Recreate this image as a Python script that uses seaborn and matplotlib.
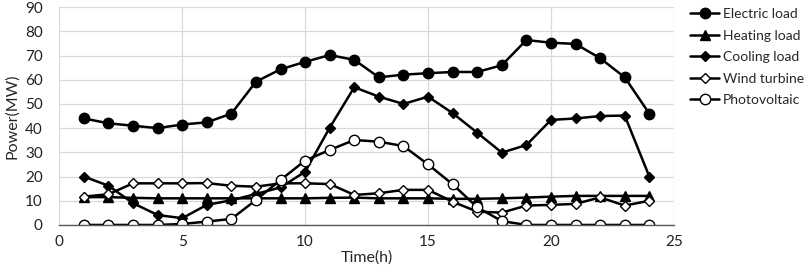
import matplotlib
matplotlib.use("Agg")
import matplotlib.pyplot as plt
import seaborn as sns
import pandas as pd

hours = list(range(1, 25))
electric = [44, 42, 41, 40, 41.5, 42.4, 46, 59.2, 64.3, 67.4, 70.2, 68.2, 61, 62.1, 62.7, 63.2,
            63.2, 66, 76.4, 75.3, 74.8, 68.9, 61, 46]
heating = [11.5, 11.5, 11.2, 11, 11, 11, 11, 11, 11, 11, 11.2, 11.3, 11, 11, 11, 10.8,
           10.8, 11, 11.3, 11.7, 12, 12, 12, 12]
cooling = [20, 16.2, 9, 4.1, 2.8, 8.3, 10.2, 12.8, 15.5, 22, 40.2, 56.9, 53, 50, 53, 46.2,
           38.1, 29.9, 33, 43.4, 44, 45, 45.2, 20]
wind = [11.7, 12.7, 17.2, 17.2, 17.2, 17.3, 16.2, 15.8, 17.2, 17.2, 16.9, 12.4, 13.1, 14.5,
        14.5, 9.6, 5.5, 5.1, 8, 8.3, 8.7, 11.4, 8, 10]
pv = [0, 0, 0, 0, 0.4, 1.4, 2.5, 10.3, 18.6, 26.6, 31, 35.1, 34.4, 32.6, 25, 16.8,
      7.3, 1.6, 0, 0, 0, 0, 0, 0]

names = ["Electric load", "Heating load", "Cooling load", "Wind turbine", "Photovoltaic"]
series = [electric, heating, cooling, wind, pv]
markers = ["o", "^", "D", "D", "o"]
msizes = [7.5, 7, 5, 5.5, 7.5]
faces = ["black", "black", "black", "white", "white"]

x_ticks = [0, 5, 10, 15, 20, 25]
y_ticks = list(range(0, 91, 10))

sns.set_style("white")
plt.rcParams['font.family'] = ['Lato', 'DejaVu Sans']

fig = plt.figure(figsize=(8.09, 2.74), dpi=100)
ax = fig.add_axes([0.0733, 0.179, 0.7597, 0.795])

for name, vals, m, ms, fc in zip(names, series, markers, msizes, faces):
    df = pd.DataFrame({"Time": hours, "Power": vals})
    sns.lineplot(data=df, x="Time", y="Power", ax=ax, color="black", linewidth=1.8,
                 marker=m, markersize=ms, markerfacecolor=fc, markeredgecolor="black",
                 markeredgewidth=1.0, label=name)

ax.set_xlim(0, 25)
ax.set_ylim(0, 90)
ax.set_xticks(x_ticks)
ax.set_yticks(y_ticks)
ax.grid(True, color="#d9d9d9", linewidth=0.9)
ax.set_axisbelow(True)
for s in ["top", "right", "left"]:
    ax.spines[s].set_visible(False)
ax.spines["bottom"].set_color("#595959")
ax.spines["bottom"].set_linewidth(1.0)
ax.tick_params(axis="both", length=0, labelsize=11, colors="#222222")
ax.tick_params(axis="x", pad=7)
ax.tick_params(axis="y", pad=12)
ax.set_xlabel("Time(h)", fontsize=11.5, labelpad=1)
ax.set_ylabel("Power(MW)", fontsize=11.5, labelpad=4)

ax.legend(loc="upper left", bbox_to_anchor=(0.843, 1.0), bbox_transform=fig.transFigure,
          frameon=False, fontsize=10, handlelength=2.1, handletextpad=0.25,
          labelspacing=0.68, borderaxespad=0.2)

fig.savefig("out.png", dpi=100)
